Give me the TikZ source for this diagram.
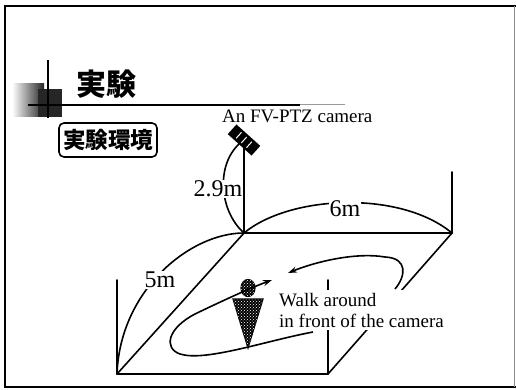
\documentclass[tikz,border=0pt]{standalone}
\usepackage{fontspec}
\setmainfont{Liberation Serif}
\newfontfamily\jafont{Noto Sans CJK JP}
\usepackage{tikz}
\usetikzlibrary{arrows.meta,patterns}

\begin{document}
\begin{tikzpicture}[
    x=1pt, y=-1pt,
    every node/.style={font=\fontsize{19}{21}\selectfont},
    edge/.style={line width=1.6pt, line cap=round, line join=round},
    walk/.style={line width=1.6pt, -{Stealth[length=9pt, width=6pt]}},
    dimlabel/.style={font=\fontsize{24}{26}\selectfont, fill=white, inner sep=1pt},
    dots/.style={fill=black, postaction={pattern=crosshatch dots, pattern color=white}},
    heading/.style={font=\jafont\bfseries\fontsize{30}{30}\selectfont, inner sep=0pt}
]
    \useasboundingbox (0,0) rectangle (516,390);
    \fill[white] (0,0) rectangle (516,390);

    % Slide frame
    \draw[line width=2.5pt] (516,6) -- (5,6) -- (5,387) -- (516,387);
    \draw[black!45, line width=0.8pt] (514,6) -- (514,387);

    % Title mark and rule
    \shade[left color=white, right color=black!85] (12,84) rectangle (44,117);
    \fill[black!85] (38,89) rectangle (62,117);
    \draw[line width=1.4pt] (48,60) -- (48,118);
    \draw[line width=1.4pt] (28,105) -- (300,105);
    \draw[black!40, line width=1pt] (300,105) -- (345,105);
    \node[heading] (title) at (106,84) {実験};
    \node[draw, line width=1.6pt, rounded corners=5pt, minimum width=98pt,
          minimum height=34pt, inner sep=0pt,
          font=\jafont\bfseries\fontsize{22.5}{22.5}\selectfont] (env) at (108,140) {実験環境};

    % Floor corners
    \coordinate (back) at (244,233);
    \coordinate (right) at (452,233);
    \coordinate (front) at (117,374);
    \coordinate (frontr) at (328,374);
    \coordinate (rtop) at (452,172);
    \coordinate (ltop) at (117,280);
    \coordinate (frtop) at (328,280);
    \coordinate (mount) at (244,140);

    % Floor and walls
    \draw[edge] (back) -- (right) -- (frontr) -- (front) -- cycle;
    \draw[edge] (right) -- (rtop);
    \draw[edge] (front) -- (ltop);
    \draw[edge] (frontr) -- (frtop);

    % Dimension arcs
    \draw[edge] (front) .. controls (120,290) and (190,233) .. (back);
    \draw[edge] (back) .. controls (290,195) and (400,190) .. (right);
    \draw[edge] (mount) .. controls (215,160) and (218,210) .. (back);
    \node[dimlabel] (h) at (218,189) {2.9m};
    \node[dimlabel] (w) at (345,209) {6m};
    \node[dimlabel] (d) at (160,280) {5m};

    % Camera on its pole
    \draw[edge] (mount) -- (back);
    \node[fill=black, minimum width=32pt, minimum height=13pt, inner sep=0pt,
          rotate=-42] (cam) at (mount) {};
    \begin{scope}[shift={(mount)}, rotate=-42]
        \foreach \t in {-7,0,7}
            \draw[white, line width=1pt] (\t,-4) -- (\t,4);
    \end{scope}
    \node[anchor=base west, inner sep=0pt] (camtext) at (222,123) {An FV-PTZ camera};

    % Walker
    \path[dots, draw, line width=1.2pt] (233,299) -- (263,299) -- (248,348) -- cycle;
    \path[dots, draw, line width=1.2pt] (248,288) ellipse [x radius=7, y radius=8.5];

    \node[fill=white, align=left, inner sep=3pt, anchor=west] (walktext) at (276,310)
        {Walk around\\in front of the camera};

    % Walking path
    \draw[walk] (313,332) .. controls (265,341) and (205,362) .. (180,354)
        .. controls (163,348) and (168,328) .. (195,314)
        .. controls (220,302) and (250,288) .. (272,280);
    \draw[walk] (395,289) .. controls (406,276) and (408,258) .. (385,257)
        .. controls (355,252) and (315,262) .. (288,273);
\end{tikzpicture}
\end{document}
